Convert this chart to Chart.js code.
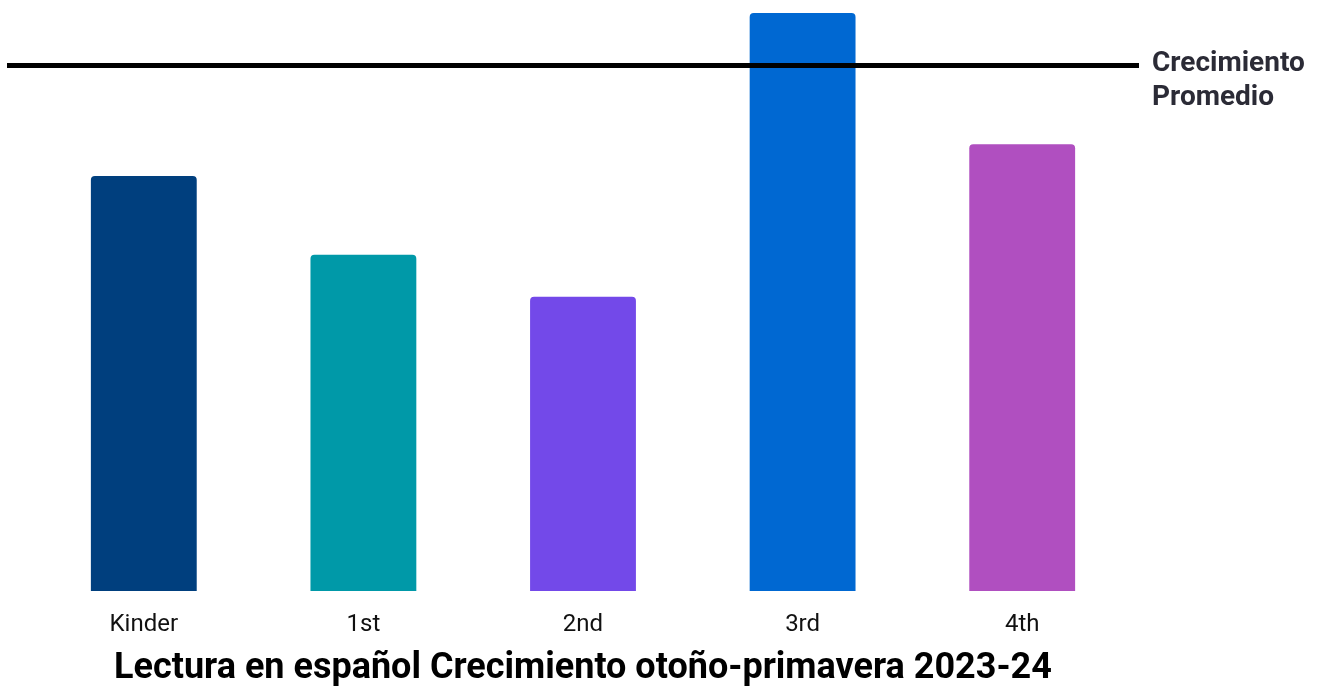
<!DOCTYPE html>
<html>
<head>
<meta charset="utf-8">
<script src="https://cdn.jsdelivr.net/npm/chart.js@4"></script>
<style>
html,body{margin:0;padding:0;background:#fff;}
#wrap{width:1323px;height:687px;position:relative;}
</style>
</head>
<body>
<div id="wrap"><canvas id="c"></canvas></div>
<script>
const categories = ['Kinder', '1st', '2nd', '3rd', '4th'];
const growthValues = [7.9, 6.4, 5.6, 11.0, 8.5];
const averageGrowth = 10.0;
const averageLabel = ['Crecimiento', 'Promedio'];
const barColors = ['#003f7e', '#0099a8', '#7349e9', '#0068d2', '#b04fc0'];
const titleText = 'Lectura en español Crecimiento otoño-primavera 2023-24';

const avgLinePlugin = {
  id: 'avgLine',
  afterDatasetsDraw(chart) {
    const ctx = chart.ctx;
    const y = chart.scales.y.getPixelForValue(averageGrowth);
    const a = chart.chartArea;
    ctx.save();
    ctx.strokeStyle = '#000';
    ctx.lineWidth = 5;
    ctx.beginPath();
    ctx.moveTo(a.left - 27, y);
    ctx.lineTo(a.right + 7, y);
    ctx.stroke();
    ctx.fillStyle = '#2b2b36';
    ctx.font = 'bold 28px Roboto';
    ctx.textAlign = 'left';
    ctx.textBaseline = 'alphabetic';
    ctx.fillText(averageLabel[0], a.right + 20, y + 5);
    ctx.fillText(averageLabel[1], a.right + 20, y + 39);
    ctx.restore();
  }
};

new Chart(document.getElementById('c'), {
  type: 'bar',
  data: {
    labels: categories,
    datasets: [{
      data: growthValues,
      backgroundColor: barColors,
      borderRadius: {topLeft: 4, topRight: 4, bottomLeft: 0, bottomRight: 0},
      borderSkipped: 'start',
      barPercentage: 0.482,
      categoryPercentage: 1.0
    }]
  },
  options: {
    responsive: true,
    maintainAspectRatio: false,
    animation: false,
    layout: {padding: {left: 34, right: 191, top: 13, bottom: 0}},
    plugins: {
      legend: {display: false},
      tooltip: {enabled: false},
      title: {
        display: true,
        text: titleText,
        position: 'bottom',
        color: '#000',
        font: {family: 'Roboto', size: 36, weight: 'bold', lineHeight: 1.0},
        padding: {top: 0, bottom: 0}
      }
    },
    scales: {
      x: {
        grid: {display: false, drawTicks: false},
        border: {display: false},
        ticks: {color: '#111', font: {family: 'Roboto', size: 24}, padding: 20},
        afterFit(scale) { scale.height = 60; }
      },
      y: {
        display: false,
        min: 0,
        max: 11,
        grid: {display: false}
      }
    }
  },
  plugins: [avgLinePlugin]
});
</script>
</body>
</html>
